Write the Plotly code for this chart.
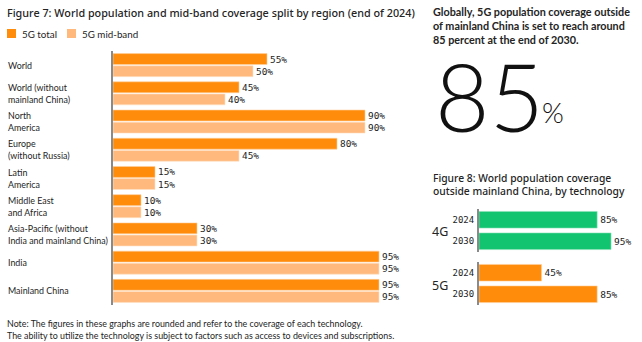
import plotly.graph_objects as go

# Figure 7: 5G coverage by region, end of 2024 (percent)
regions = [
    "World",
    "World (without<br>mainland China)",
    "North<br>America",
    "Europe<br>(without Russia)",
    "Latin<br>America",
    "Middle East<br>and Africa",
    "Asia-Pacific (without<br>India and mainland China)",
    "India",
    "Mainland China",
]
total_5g = [55, 45, 90, 80, 15, 10, 30, 95, 95]
midband_5g = [50, 40, 90, 45, 15, 10, 30, 95, 95]

# Figure 8: coverage outside mainland China by technology (percent)
years = ["2024", "2030"]
cov_4g = [85, 95]
cov_5g = [45, 85]

ORANGE = "#FF8C0A"
LIGHT = "#FFB97D"
GREEN = "#12C370"
TEXT = "#242424"
SANS = "Noto Sans"
BODY = "Lato"
MONO = "DejaVu Sans Mono"

W, H = 642, 342


def px(x):
    return x / W


def py(y):
    return 1 - y / H


fig = go.Figure()

# Left chart: grouped horizontal bars
fig.add_trace(go.Bar(
    y=regions, x=total_5g, orientation="h", name="5G total",
    marker=dict(color=ORANGE, line=dict(color="#FFD0A0", width=0.6)),
    text=[f"{v}%" for v in total_5g], textposition="outside",
    outsidetextfont=dict(family=MONO, size=9.5, color=TEXT),
    cliponaxis=False, xaxis="x", yaxis="y",
))
fig.add_trace(go.Bar(
    y=regions, x=midband_5g, orientation="h", name="5G mid-band",
    marker=dict(color=LIGHT, line=dict(color="#FFE2C6", width=0.6)),
    text=[f"{v}%" for v in midband_5g], textposition="outside",
    outsidetextfont=dict(family=MONO, size=9.5, color=TEXT),
    cliponaxis=False, xaxis="x", yaxis="y",
))

# Right chart: 4G and 5G panels
fig.add_trace(go.Bar(
    y=years, x=cov_4g, orientation="h", name="4G",
    marker=dict(color=GREEN, line=dict(color="#8EE3BA", width=0.6)),
    text=[f"{v}%" for v in cov_4g], textposition="outside",
    outsidetextfont=dict(family=MONO, size=9.5, color=TEXT),
    cliponaxis=False, xaxis="x2", yaxis="y2",
))
fig.add_trace(go.Bar(
    y=years, x=cov_5g, orientation="h", name="5G",
    marker=dict(color=ORANGE, line=dict(color="#FFD0A0", width=0.6)),
    text=[f"{v}%" for v in cov_5g], textposition="outside",
    outsidetextfont=dict(family=MONO, size=9.5, color=TEXT),
    cliponaxis=False, xaxis="x3", yaxis="y3",
))

hidden_x = dict(range=[0, 100], showgrid=False, zeroline=False,
                showticklabels=False, showline=False, fixedrange=True)
bar_axis = dict(showgrid=False, zeroline=False, showline=True,
                linecolor="#8A8A8A", linewidth=2, ticks="",
                autorange="reversed", fixedrange=True)

fig.update_layout(
    width=W, height=H,
    margin=dict(l=0, r=0, t=0, b=0),
    paper_bgcolor="white", plot_bgcolor="white",
    showlegend=False,
    barmode="group", bargap=0.14, bargroupgap=0.1,
    xaxis=dict(domain=[px(113), px(113 + 280)], anchor="y", **hidden_x),
    yaxis=dict(domain=[py(305), py(51)], anchor="x", showticklabels=False,
               **bar_axis),
    xaxis2=dict(domain=[px(479), px(479 + 139)], anchor="y2", **hidden_x),
    yaxis2=dict(domain=[py(252), py(209)], anchor="x2", showticklabels=True,
                ticklabelstandoff=1,
                tickfont=dict(family=MONO, size=9, color=TEXT), **bar_axis),
    xaxis3=dict(domain=[px(479), px(479 + 139)], anchor="y3", **hidden_x),
    yaxis3=dict(domain=[py(305), py(262)], anchor="x3", showticklabels=True,
                ticklabelstandoff=1,
                tickfont=dict(family=MONO, size=9, color=TEXT), **bar_axis),
)

ann = []


def note(text, x, y, size, color=TEXT, family=SANS, xanchor="left",
         yanchor="middle", weight="normal", align="left"):
    ann.append(dict(text=text, x=px(x), y=py(y), xref="paper", yref="paper",
                    xanchor=xanchor, yanchor=yanchor, showarrow=False,
                    align=align,
                    font=dict(family=family, size=size, color=color,
                              weight=weight)))


# Titles
note("Figure 7: World population and mid-band coverage split by region (end of 2024)",
     5, 12, 10.8, weight=500)
note("Globally, 5G population coverage outside<br>"
     "of mainland China is set to reach around<br>"
     "85 percent at the end of 2030.",
     431, 26, 10.8, family=BODY, weight="bold")
note("Figure 8: World population coverage<br>outside mainland China, by technology",
     431, 184, 10.3, weight=500)

# Headline figure
note("85", 433, 95, 94, family="Lato", weight=300, color="#111111")
note("%", 540, 112, 28, family="Lato", weight=300, color="#111111")

# Legend swatches and labels
fig.add_shape(type="rect", xref="paper", yref="paper", x0=px(7), x1=px(16),
              y0=py(38), y1=py(29), fillcolor=ORANGE, line=dict(width=0))
fig.add_shape(type="rect", xref="paper", yref="paper", x0=px(67), x1=px(76),
              y0=py(38), y1=py(29), fillcolor=LIGHT, line=dict(width=0))
note("5G total", 20, 33.5, 9.8, family=BODY)
note("5G mid-band", 80, 33.5, 9.8, family=BODY)

# Region labels, left-aligned
for r in regions:
    ann.append(dict(text=r, x=px(6), y=r, xref="paper", yref="y",
                    xanchor="left", yanchor="middle", showarrow=False,
                    align="left",
                    font=dict(family=BODY, size=8.9, color=TEXT)))

# Technology labels
note("4G", 440, 231, 12.5, xanchor="center")
note("5G", 440, 285, 12.5, xanchor="center")

# Footnote
note("Note: The figures in these graphs are rounded and refer to the coverage of each technology.<br>"
     "The ability to utilize the technology is subject to factors such as access to devices and subscriptions.",
     5, 329, 8.9, family=BODY)

fig.update_layout(annotations=ann)
fig.write_html("out.html")
